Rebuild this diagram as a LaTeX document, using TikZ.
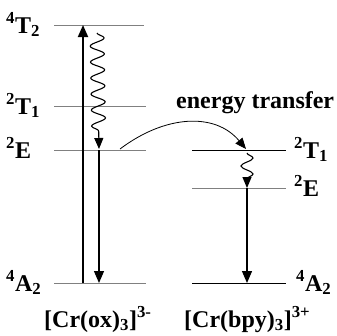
\documentclass[tikz,border=0pt]{standalone}
\usepackage{fontspec}
\setmainfont{Liberation Serif}
\usetikzlibrary{arrows.meta,decorations.pathmorphing}

\begin{document}
\begin{tikzpicture}[
            x=1pt, y=-1pt,
            level/.style={draw=gray, line width=1pt},
            term/.style={font=\bfseries\fontsize{24}{28}\selectfont, inner sep=0pt, anchor=base west},
            absorb/.style={line width=1.8pt, -{Triangle[width=10pt,length=12pt]}},
            emit/.style={line width=1.3pt, -{Triangle[width=10pt,length=12pt]}},
            relax/.style={line width=1.1pt, decorate, decoration={snake, amplitude=7pt, segment length=16pt, post length=11pt}, -{Triangle[width=9pt,length=11pt]}}
        ]
        \useasboundingbox (0,0) rectangle (337,335);

        % levels of the donor
        \draw[level] (54,25) coordinate (oxT2w) -- (144,25) coordinate (oxT2e);
        \draw[level] (54,106) coordinate (oxT1w) -- (146,106) coordinate (oxT1e);
        \draw[level] (54,150) coordinate (oxEw) -- (146,150) coordinate (oxEe);
        \draw[level] (54,283) coordinate (oxA2w) -- (146,283) coordinate (oxA2e);

        % levels of the acceptor
        \draw[level, draw=black] (192,150) coordinate (bpyT1w) -- (286,150) coordinate (bpyT1e);
        \draw[level] (192,188) coordinate (bpyEw) -- (286,188) coordinate (bpyEe);
        \draw[level, draw=black] (192,283) coordinate (bpyA2w) -- (286,283) coordinate (bpyA2e);

        \node[term] (oxT2) at (6,33) {\textsuperscript{4}T\textsubscript{2}};
        \node[term] (oxT1) at (6,114) {\textsuperscript{2}T\textsubscript{1}};
        \node[term] (oxE) at (6,158) {\textsuperscript{2}E};
        \node[term] (oxA2) at (6,291) {\textsuperscript{4}A\textsubscript{2}};

        \node[term] (bpyT1) at (294,158) {\textsuperscript{2}T\textsubscript{1}};
        \node[term] (bpyE) at (294,196) {\textsuperscript{2}E};
        \node[term] (bpyA2) at (296,291) {\textsuperscript{4}A\textsubscript{2}};

        \node[term] (et) at (176,108) {energy transfer};
        \node[term] (ox) at (44,327) {[Cr(ox)\textsubscript{3}]\textsuperscript{3-}};
        \node[term] (bpy) at (184,327) {[Cr(bpy)\textsubscript{3}]\textsuperscript{3+}};

        \coordinate (upS) at (83,283);
        \coordinate (upT) at (83,25);
        \coordinate (wvS) at (97,33);
        \coordinate (wvT) at (99,149);
        \coordinate (dnS) at (99,150);
        \coordinate (dnT) at (99,283);
        \coordinate (etS) at (120,149);
        \coordinate (etT) at (246,149);
        \coordinate (wv2S) at (247,153);
        \coordinate (wv2T) at (247,188);
        \coordinate (dn2S) at (247,188);
        \coordinate (dn2T) at (247,283);

        \draw[absorb] (upS) -- (upT);
        \draw[relax] (wvS) -- (wvT);
        \draw[emit] (dnS) -- (dnT);
        \draw[line width=0.8pt, -{Triangle[width=9pt,length=11pt]}] (etS) .. controls (165,115) and (215,112) .. (etT);
        \draw[relax, decoration={amplitude=6pt, segment length=16pt, post length=9pt}] (wv2S) -- (wv2T);
        \draw[emit] (dn2S) -- (dn2T);
    \end{tikzpicture}
\end{document}
